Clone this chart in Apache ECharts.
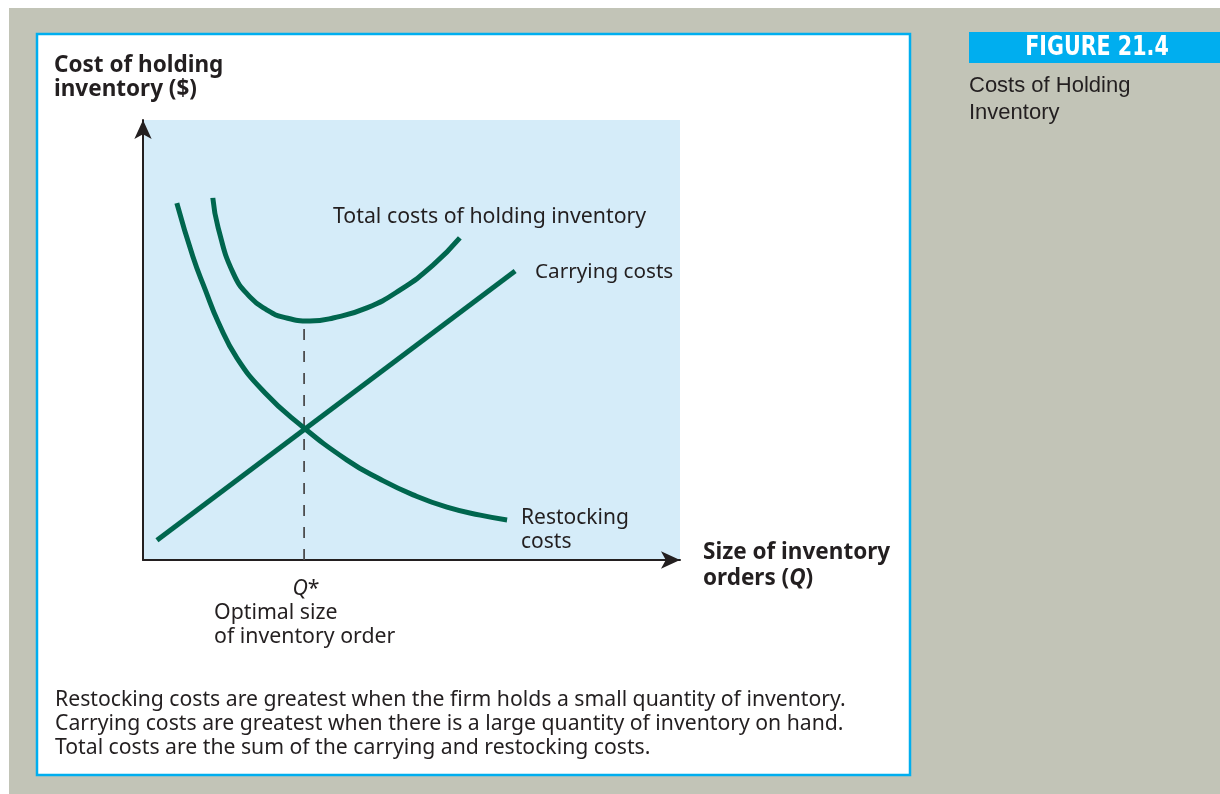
<!DOCTYPE html>
<html>
<head>
<meta charset="utf-8">
<script src="https://cdn.jsdelivr.net/npm/echarts@6/dist/echarts.min.js"></script>
<style>
html, body { margin: 0; padding: 0; background: #fff; }
#chart { width: 1220px; height: 794px; }
</style>
</head>
<body>
<div id="chart"></div>
<script>
// curves, x = order size, y = cost (0..100 both ways)
var restocking = [[6.3, 81.1], [9.3, 68.9], [11.6, 61.4], [14.0, 54.1], [17.5, 45.9],
    [22.7, 38.0], [28.9, 31.1], [38.0, 22.7], [44.1, 18.4], [50.3, 14.8],
    [56.6, 12.0], [62.8, 10.2], [67.8, 9.1]];
var carrying = [[2.6, 4.5], [69.3, 65.7]];
var total = [[13.0, 82.3], [14.0, 75.5], [16.8, 65.2], [19.9, 59.8], [23.1, 56.8],
    [26.1, 55.2], [31.1, 54.3], [35.4, 55.0], [41.7, 57.3], [47.9, 61.4],
    [54.0, 67.0], [59.0, 73.2]];
var qStar = 30.0;
var qStarCost = 53.6;

var captionLines = [
    'Restocking costs are greatest when the firm holds a small quantity of inventory.',
    'Carrying costs are greatest when there is a large quantity of inventory on hand.',
    'Total costs are the sum of the carrying and restocking costs.'
];

var green = '#00664e';
var ink = '#231f20';
var font = '"Noto Sans", "Open Sans", sans-serif';

function txt(text, x, y, size, opts) {
    opts = opts || {};
    return {
        type: 'text',
        z: 10,
        x: x,
        y: y + 2,
        scaleX: opts.scaleX || 1,
        style: {
            text: text,
            x: 0,
            y: 0,
            fill: opts.fill || ink,
            fontSize: size,
            fontFamily: opts.family || font,
            fontWeight: opts.weight || 'normal',
            textAlign: opts.align || 'left',
            textVerticalAlign: 'middle',
            rich: opts.rich
        }
    };
}

var myChart = echarts.init(document.getElementById('chart'));

var graphics = [
    // page background + panel
    { type: 'rect', z: -100, shape: { x: 9, y: 8, width: 1211, height: 786 }, style: { fill: '#c2c4b7' } },
    { type: 'rect', z: -90, shape: { x: 37, y: 34, width: 873, height: 741 }, style: { fill: '#fff', stroke: '#00aeef', lineWidth: 2.5 } },
    { type: 'rect', z: -90, shape: { x: 969, y: 32, width: 251, height: 31 }, style: { fill: '#00aeef' } },
    txt('FIGURE 21.4', 1097, 46, 27, { fill: '#fff', weight: 'bold', align: 'center', scaleX: 0.85,
        family: '"Liberation Sans Narrow", "DejaVu Sans Condensed", sans-serif' }),
    txt('Costs of Holding', 969, 84, 22, { family: '"Liberation Sans", Arial, sans-serif' }),
    txt('Inventory', 969, 111, 22, { family: '"Liberation Sans", Arial, sans-serif' }),
    // axis titles
    txt('Cost of holding', 54, 64, 22.5, { weight: 'bold' }),
    txt('inventory ($)', 54, 88, 22.5, { weight: 'bold' }),
    txt('Size of inventory', 703, 551, 22.5, { weight: 'bold' }),
    txt('orders ({q|Q})', 703, 577, 22.5, { weight: 'bold',
        rich: { q: { fontStyle: 'italic', fontWeight: 'bold', fontSize: 22.5, fontFamily: font, fill: ink } } }),
    // Q*
    txt('{q|Q}*', 306, 587, 21.3, { align: 'center',
        rich: { q: { fontStyle: 'italic', fontSize: 21.3, fontFamily: font, fill: ink } } }),
    txt('Optimal size', 214, 611, 21.3),
    txt('of inventory order', 214, 635, 21.3),
    // curve labels
    txt('Total costs of holding inventory', 333, 215, 21.3),
    txt('Carrying costs', 535, 270, 20.7),
    txt('Restocking', 521, 516, 21),
    txt('costs', 521, 540, 21)
];
captionLines.forEach(function (line, i) {
    graphics.push(txt(line, 55, 698 + i * 24, 21.2));
});

var option = {
    animation: false,
    backgroundColor: '#fff',
    grid: {
        left: 143,
        top: 120,
        right: 540,
        bottom: 234,
        show: true,
        backgroundColor: '#d5ecf9',
        borderWidth: 0,
        outerBoundsMode: 'none'
    },
    xAxis: {
        type: 'value',
        min: 0,
        max: 100,
        axisLine: {
            show: true,
            onZero: false,
            symbol: ['none', 'arrow'],
            symbolSize: [13, 19],
            lineStyle: { color: ink, width: 2 }
        },
        axisTick: { show: false },
        axisLabel: { show: false },
        splitLine: { show: false }
    },
    yAxis: {
        type: 'value',
        min: 0,
        max: 100,
        axisLine: {
            show: true,
            onZero: false,
            symbol: ['none', 'arrow'],
            symbolSize: [13, 19],
            lineStyle: { color: ink, width: 2 }
        },
        axisTick: { show: false },
        axisLabel: { show: false },
        splitLine: { show: false }
    },
    graphic: graphics,
    series: [
        {
            name: 'Q*',
            type: 'line',
            data: [[qStar, 0], [qStar, qStarCost]],
            symbol: 'none',
            lineStyle: { color: '#4d4d4f', width: 1.8, type: [11, 11] },
            z: 1
        },
        {
            name: 'Restocking costs',
            type: 'line',
            data: restocking,
            smooth: 0.5,
            symbol: 'none',
            lineStyle: { color: green, width: 5 },
            z: 3
        },
        {
            name: 'Carrying costs',
            type: 'line',
            data: carrying,
            symbol: 'none',
            lineStyle: { color: green, width: 5 },
            z: 3
        },
        {
            name: 'Total costs of holding inventory',
            type: 'line',
            data: total,
            smooth: 0.5,
            symbol: 'none',
            lineStyle: { color: green, width: 5 },
            z: 3
        }
    ]
};

myChart.setOption(option);
</script>
</body>
</html>
